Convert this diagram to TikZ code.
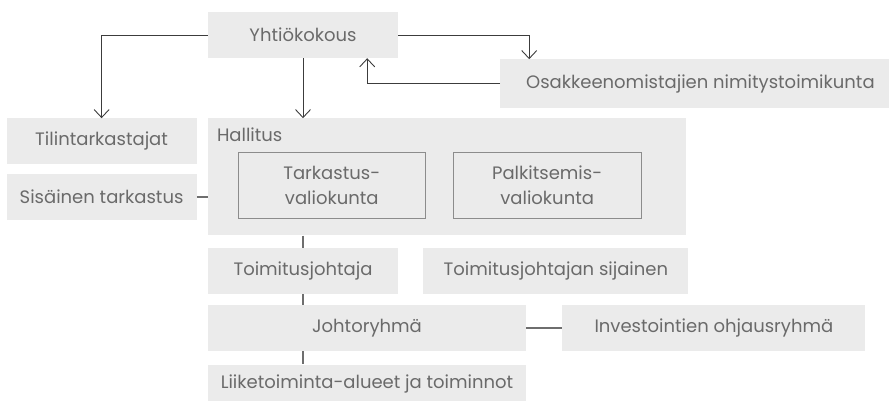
\documentclass[tikz,border=0pt]{standalone}
\usepackage{fontspec}
\setmainfont{Poppins}
\usetikzlibrary{positioning, arrows.meta, calc}
\definecolor{boxgray}{HTML}{EBEBEB}
\definecolor{textgray}{HTML}{6A6A6A}
\definecolor{linegray}{HTML}{6E6E6E}
\definecolor{framegray}{HTML}{8C8C8C}
\definecolor{arrowgray}{HTML}{3C3C3C}
\tikzset{
  unit/.style={rectangle, fill=boxgray, text=textgray, inner sep=0pt, minimum height=46pt, text centered, font=\fontsize{18}{21}\selectfont},
  committee/.style={rectangle, draw=framegray, line width=0.9pt, text=textgray, inner sep=0pt, minimum height=66pt, align=center, font=\fontsize{18}{25}\selectfont},
  title/.style={text=textgray, inner sep=0pt, font=\fontsize{18}{21}\selectfont},
  arrow/.style={draw=arrowgray, line width=0.9pt, -{Straight Barb[length=8pt, width=15pt]}},
  link/.style={draw=linegray, line width=1.6pt}
}

\begin{document}
\begin{tikzpicture}[x=1pt, y=-1pt]
    \clip (0,0) rectangle (889,401);
    \node (yk) [unit, minimum width=190pt] at (303,35) {Yhtiökokous};
    \node (tili) [unit, minimum width=190pt, below left=60pt and 11pt of yk.south west] {Tilintarkastajat};
    \node (sis) [unit, minimum width=190pt, below=9pt of tili] {Sisäinen tarkastus};
    \node (osak) [unit, minimum width=400pt, minimum height=49pt, below right=1pt and 102pt of yk.south east] {Osakkeenomistajien nimitystoimikunta};
    \node (hall) [unit, minimum width=478pt, minimum height=117pt, below right=60pt and 0pt of yk.south west] {};
    \node (halltitle) [title, anchor=base west] at ([xshift=9pt, yshift=-23pt]hall.north west) {Hallitus};
    \node (tark) [committee, minimum width=187pt, below right=34pt and 30pt of hall.north west] {Tarkastus-\\valiokunta};
    \node (palk) [committee, minimum width=188pt, right=27pt of tark] {Palkitsemis-\\valiokunta};

    \node (tj) [unit, minimum width=190pt, below right=12pt and 0pt of hall.south west] {Toimitusjohtaja};
    \node (tjs) [unit, minimum width=265pt, right=25pt of tj] {Toimitusjohtajan sijainen};
    \node (jr) [unit, minimum width=318pt, below right=11pt and 0pt of tj.south west] {Johtoryhmä};
    \node (inv) [unit, minimum width=303pt, right=36pt of jr] {Investointien ohjausryhmä};
    \node (liike) [unit, minimum width=318pt, minimum height=38pt, below right=13pt and 0pt of jr.south west] {Liiketoiminta-alueet ja toiminnot};

    % nuolet yhtiokokouksesta
    \draw [arrow] (yk.west) -| (tili.north);
    \draw [arrow] (yk.south) -- (yk.south |- hall.north);
    \draw [arrow] (yk.east) -| ([xshift=29pt]osak.north west);
    \draw [arrow] (osak.west) -| ([xshift=-31pt]yk.south east);

    % yhdysviivat
    \draw [link] (sis.east) -- (sis.east -| hall.west);
    \draw [link] (tj.north |- hall.south) -- (tj.north);
    \draw [link] (tj.south) -- (tj.south |- jr.north);
    \draw [link] (tj.south |- jr.south) -- (tj.south |- liike.north);
    \draw [link] (jr.east) -- (inv.west);
\end{tikzpicture}
\end{document}
